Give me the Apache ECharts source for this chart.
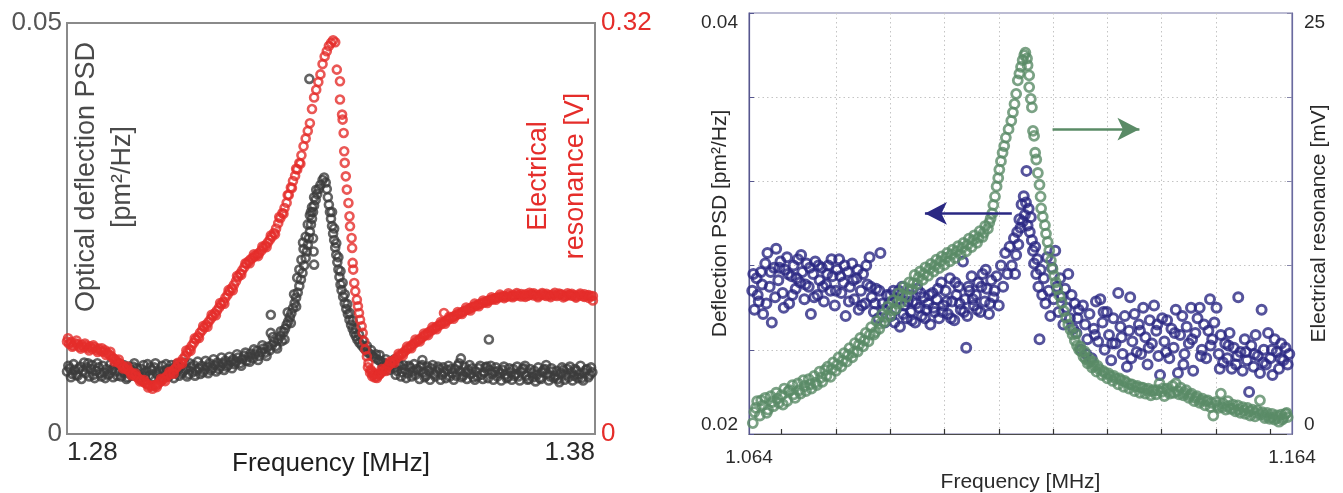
<!DOCTYPE html>
<html>
<head>
<meta charset="utf-8">
<script src="https://cdn.jsdelivr.net/npm/echarts@6/dist/echarts.min.js"></script>
<style>
html,body{margin:0;padding:0;background:#fff;}
#chart{width:1343px;height:493px;}
</style>
</head>
<body>
<div id="chart"></div>
<script>
// ---------- tick labels ----------
const leftXTicks = [1.28, 1.38];
const leftYTicks = [0, 0.05];
const leftY2Ticks = [0, 0.32];
const rightXTicks = [1.064, 1.164];
const rightXGrid = [1.07, 1.08, 1.09, 1.10, 1.11, 1.12, 1.13, 1.14, 1.15, 1.16];
const rightYTicks = [0.02, 0.04];
const rightYGridStep = 0.004;
const rightY2Ticks = [0, 25];
const rightY2GridStep = 5;

// ---------- left panel: optical deflection PSD [pm^2/Hz] vs frequency [MHz] ----------
const leftOpticalPSD = [
[1.2800,.0076],[1.2805,.0080],[1.2810,.0073],[1.2815,.0078],[1.2820,.0071],[1.2825,.0082],[1.2830,.0077],[1.2835,.0074],
[1.2840,.0086],[1.2845,.0079],[1.2850,.0072],[1.2855,.0077],[1.2860,.0081],[1.2865,.0070],[1.2870,.0075],[1.2875,.0079],
[1.2880,.0073],[1.2885,.0078],[1.2890,.0083],[1.2895,.0071],[1.2900,.0076],[1.2905,.0080],[1.2910,.0074],[1.2915,.0069],
[1.2920,.0078],[1.2925,.0082],[1.2930,.0075],[1.2935,.0072],[1.2940,.0079],[1.2945,.0084],[1.2950,.0076],[1.2955,.0071],
[1.2960,.0078],[1.2965,.0081],[1.2970,.0074],[1.2975,.0077],[1.2980,.0083],[1.2985,.0072],[1.2990,.0079],[1.2995,.0075],
[1.3000,.0080],[1.3005,.0074],[1.3010,.0078],[1.3015,.0082],[1.3020,.0076],[1.3025,.0079],[1.3030,.0073],[1.3035,.0081],
[1.3040,.0084],[1.3045,.0077],[1.3050,.0080],[1.3055,.0083],[1.3060,.0078],[1.3065,.0082],[1.3070,.0086],[1.3075,.0080],
[1.3080,.0084],[1.3085,.0087],[1.3090,.0082],[1.3095,.0086],[1.3100,.0089],[1.3105,.0084],[1.3110,.0088],[1.3115,.0091],
[1.28025,.0083],[1.28075,.0069],[1.28125,.0085],[1.28175,.0072],[1.28225,.0079],[1.28275,.0067],[1.28325,.0087],[1.28375,.0081],
[1.28425,.0070],[1.28475,.0084],[1.28525,.0068],[1.28575,.0086],[1.28625,.0074],[1.28675,.0083],[1.28725,.0068],[1.28775,.0072],
[1.28825,.0085],[1.28875,.0069],[1.28925,.0076],[1.28975,.0086],[1.29025,.0070],[1.29075,.0084],[1.29125,.0067],[1.29175,.0082],
[1.29225,.0071],[1.29275,.0086],[1.29325,.0080],[1.29375,.0068],[1.29425,.0073],[1.29475,.0070],[1.29525,.0085],[1.29575,.0081],
[1.29625,.0069],[1.29675,.0086],[1.29725,.0071],[1.29775,.0068],[1.29825,.0076],[1.29875,.0085],[1.29925,.0070],[1.29975,.0084],
[1.30025,.0068],[1.30075,.0085],[1.30125,.0071],[1.30175,.0074],[1.30225,.0087],[1.30275,.0070],[1.30325,.0086],[1.30375,.0075],
[1.30425,.0071],[1.30475,.0088],[1.30525,.0073],[1.30575,.0075],[1.30625,.0089],[1.30675,.0074],[1.30725,.0078],[1.30775,.0091],
[1.30825,.0076],[1.30875,.0079],[1.30925,.0093],[1.30975,.0078],[1.31025,.0082],[1.31075,.0094],[1.31125,.0080],[1.31175,.0085],
[1.3120,.0088],[1.3124,.0093],[1.3128,.0086],[1.3132,.0091],[1.3136,.0095],[1.3140,.0089],[1.3144,.0094],[1.3148,.0098],
[1.3152,.0092],[1.3156,.0097],[1.3160,.0101],[1.3164,.0095],[1.3168,.0100],[1.3172,.0104],[1.3176,.0099],[1.3180,.0106],
[1.3184,.0102],[1.3186,.0123],[1.3186,.0145],[1.3188,.0108],[1.3192,.0112],[1.3196,.0107],[1.3200,.0115],[1.3204,.0119],
[1.3207,.0113],[1.3210,.0124],[1.3213,.0128],[1.3216,.0133],[1.3219,.0137],[1.3222,.0142],[1.3225,.0147],[1.3228,.0153],
[1.3231,.0159],[1.3234,.0166],[1.3237,.0172],[1.3240,.0180],[1.3243,.0188],[1.3246,.0196],[1.3249,.0205],[1.3252,.0214],
[1.3254,.0222],[1.3256,.0230],[1.3258,.0238],[1.3259,.0432],[1.3260,.0246],[1.3262,.0255],[1.3264,.0262],[1.3266,.0270],
[1.3268,.0278],[1.3271,.0285],[1.3274,.0292],[1.3277,.0298],[1.3280,.0303],[1.3284,.0309],[1.3287,.0312],
[1.3122,.0097],[1.3130,.0083],[1.3138,.0099],[1.3146,.0088],[1.3154,.0103],[1.3162,.0090],[1.3170,.0108],[1.3178,.0095],
[1.3190,.0118],[1.3198,.0104],[1.3205,.0125],[1.3212,.0115],[1.3218,.0148],[1.3224,.0135],[1.3230,.0170],[1.3234,.0155],
[1.3236,.0190],[1.3240,.0200],[1.3244,.0212],[1.3248,.0225],[1.3252,.0240],[1.3256,.0255],[1.3260,.0266],[1.3264,.0276],
[1.3268,.0288],[1.3272,.0297],[1.3266,.0238],[1.3267,.0222],[1.3268,.0206],[1.3247,.0233],[1.3262,.0270],
[1.3290,.0306],[1.3292,.0298],[1.3294,.0288],[1.3296,.0279],[1.3298,.0270],[1.3300,.0262],[1.3302,.0253],[1.3304,.0244],
[1.3306,.0236],[1.3308,.0227],[1.3310,.0218],[1.3312,.0209],[1.3314,.0200],[1.3316,.0191],[1.3318,.0182],[1.3320,.0175],
[1.3323,.0167],[1.3326,.0159],[1.3329,.0152],[1.3332,.0146],[1.3335,.0139],[1.3338,.0133],[1.3341,.0128],[1.3344,.0123],
[1.3347,.0119],[1.3350,.0115],[1.3354,.0111],[1.3358,.0108],[1.3362,.0105],[1.3366,.0102],[1.3370,.0099],[1.3375,.0097],
[1.3380,.0094],[1.3385,.0092],[1.3390,.0090],[1.3395,.0088],[1.3400,.0087],[1.3405,.0085],[1.3410,.0083],[1.3415,.0082],
[1.3302,.0270],[1.3306,.0250],[1.3310,.0232],[1.3314,.0215],[1.3318,.0198],[1.3322,.0184],[1.3326,.0170],[1.3331,.0158],
[1.3336,.0147],[1.3341,.0138],[1.3347,.0128],[1.3353,.0121],[1.3360,.0114],[1.3368,.0107],[1.3376,.0102],[1.3385,.0097],
[1.3392,.0096],[1.3398,.0082],[1.3404,.0091],[1.3410,.0078],[1.3416,.0088],[1.3420,.0091],
[1.3420,.0080],[1.3425,.0077],[1.3430,.0083],[1.3435,.0075],[1.3440,.0079],[1.3445,.0074],[1.3450,.0081],[1.3455,.0076],
[1.3460,.0072],[1.3465,.0078],[1.3470,.0082],[1.3473,.0090],[1.3475,.0075],[1.3480,.0071],[1.3485,.0077],[1.3490,.0080],
[1.3495,.0073],[1.3500,.0076],[1.3505,.0079],[1.3510,.0072],[1.3515,.0075],[1.3520,.0078],[1.3525,.0070],[1.3530,.0074],
[1.3535,.0079],[1.3540,.0083],[1.3546,.0092],[1.3545,.0076],[1.3550,.0071],[1.3555,.0075],[1.3560,.0078],[1.3565,.0073],
[1.3570,.0069],[1.3575,.0076],[1.3580,.0080],[1.3585,.0072],[1.3590,.0075],[1.3595,.0082],[1.3599,.0115],[1.3600,.0078],
[1.3605,.0073],[1.3610,.0076],[1.3615,.0070],[1.3620,.0074],[1.3625,.0078],[1.3630,.0072],[1.3635,.0069],[1.3640,.0075],
[1.3645,.0079],[1.3650,.0073],[1.3655,.0070],[1.3660,.0076],[1.3665,.0080],[1.3670,.0071],[1.3675,.0067],[1.3680,.0074],
[1.3685,.0077],[1.3690,.0072],[1.3695,.0068],[1.3700,.0075],[1.3705,.0079],[1.3710,.0073],[1.3715,.0070],[1.3720,.0076],
[1.3725,.0071],[1.3730,.0067],[1.3735,.0074],[1.3740,.0078],[1.3745,.0072],[1.3750,.0069],[1.3755,.0075],[1.3760,.0071],
[1.3765,.0077],[1.3770,.0073],[1.3775,.0068],[1.3780,.0074],[1.3785,.0079],[1.3790,.0072],[1.3795,.0075],
[1.34225,.0072],[1.34275,.0086],[1.34325,.0070],[1.34375,.0084],[1.34425,.0068],[1.34475,.0083],[1.34525,.0070],[1.34575,.0085],
[1.34625,.0079],[1.34675,.0067],[1.34725,.0084],[1.34775,.0069],[1.34825,.0082],[1.34875,.0066],[1.34925,.0084],[1.34975,.0070],
[1.35025,.0082],[1.35075,.0066],[1.35125,.0081],[1.35175,.0068],[1.35225,.0083],[1.35275,.0079],[1.35325,.0066],[1.35375,.0071],
[1.35425,.0086],[1.35475,.0069],[1.35525,.0082],[1.35575,.0067],[1.35625,.0084],[1.35675,.0080],[1.35725,.0066],[1.35775,.0070],
[1.35825,.0083],[1.35875,.0067],[1.35925,.0081],[1.35975,.0068],[1.36025,.0083],[1.36075,.0066],[1.36125,.0081],[1.36175,.0077],
[1.36225,.0065],[1.36275,.0082],[1.36325,.0068],[1.36375,.0080],[1.36425,.0066],[1.36475,.0071],[1.36525,.0082],[1.36575,.0065],
[1.36625,.0079],[1.36675,.0083],[1.36725,.0066],[1.36775,.0079],[1.36825,.0069],[1.36875,.0064],[1.36925,.0081],[1.36975,.0067],
[1.37025,.0078],[1.37075,.0084],[1.37125,.0065],[1.37175,.0080],[1.37225,.0068],[1.37275,.0077],[1.37325,.0063],[1.37375,.0081],
[1.37425,.0066],[1.37475,.0079],[1.37525,.0082],[1.37575,.0065],[1.37625,.0079],[1.37675,.0068],[1.37725,.0083],[1.37775,.0065],
[1.37825,.0078],[1.37875,.0069],[1.37925,.0081]
];

// ---------- left panel: electrical resonance [V] vs frequency [MHz] ----------
const leftElectrical = [
[1.2800,.0720],[1.2804,.0702],[1.2808,.0715],[1.2812,.0690],[1.2816,.0706],[1.2820,.0698],[1.2824,.0680],[1.2828,.0694],
[1.2832,.0676],[1.2836,.0688],[1.2840,.0670],[1.2844,.0682],[1.2848,.0664],[1.2852,.0675],[1.2856,.0655],[1.2860,.0666],
[1.2864,.0648],[1.2868,.0640],[1.2872,.0652],[1.2876,.0632],[1.2880,.0618],[1.2884,.0605],[1.2888,.0590],[1.2892,.0578],
[1.2896,.0560],[1.2900,.0548],[1.2904,.0535],[1.2908,.0520],[1.2912,.0508],[1.2916,.0496],[1.2920,.0482],[1.2924,.0470],
[1.2928,.0458],[1.2932,.0446],[1.2936,.0432],[1.2940,.0420],[1.2944,.0408],[1.2948,.0398],[1.2952,.0388],[1.2956,.0378],
[1.2960,.0372],[1.2964,.0380],[1.2968,.0376],[1.2972,.0390],[1.2976,.0405],[1.2980,.0418],[1.2984,.0430],[1.2988,.0445],
[1.2992,.0460],[1.2996,.0472],[1.3000,.0488],[1.3004,.0505],[1.3008,.0522],[1.3012,.0540],[1.3016,.0560],[1.3020,.0585],
[1.3024,.0608],[1.3028,.0635],[1.3032,.0660],[1.3036,.0686],[1.3040,.0710],[1.3044,.0735],[1.3048,.0760],[1.3052,.0788],
[1.3056,.0808],[1.3060,.0830],[1.3064,.0852],[1.3068,.0872],[1.3072,.0895],[1.3076,.0916],[1.3080,.0940],[1.3084,.0962],
[1.3088,.0985],[1.3092,.1008],[1.3096,.1030],[1.3100,.1060],[1.3104,.1085],[1.3108,.1110],[1.3112,.1135],[1.3116,.1160],
[1.3120,.1190],[1.3124,.1222],[1.3128,.1250],[1.3132,.1275],[1.3136,.1300],[1.3140,.1325],[1.3144,.1345],[1.3148,.1360],
[1.3152,.1372],[1.3156,.1385],[1.3160,.1398],[1.3164,.1410],[1.3168,.1428],[1.3172,.1450],[1.3176,.1470],[1.3180,.1490],
[1.3184,.1512],[1.3188,.1535],[1.3192,.1565],[1.3196,.1600],[1.3200,.1640],[1.3204,.1680],[1.3208,.1720],[1.3212,.1760],
[1.3216,.1800],[1.3220,.1860],[1.3224,.1920],[1.3228,.1970],[1.3232,.2010],[1.3236,.2060],[1.3240,.2110],[1.3244,.2170],
[1.3248,.2240],[1.3252,.2300],[1.3256,.2360],[1.3260,.2420],[1.3264,.2530],[1.3268,.2620],[1.3272,.2680],[1.3276,.2740],
[1.3280,.2800],[1.3284,.2880],[1.3288,.2940],[1.3292,.2980],[1.3296,.3020],[1.3300,.3045],[1.3304,.3065],[1.3308,.3050],
[1.2802,.0745],[1.2810,.0680],[1.2818,.0728],[1.2826,.0665],[1.2834,.0705],[1.2842,.0650],[1.2850,.0690],[1.2858,.0638],
[1.2866,.0668],[1.2874,.0615],[1.2882,.0640],[1.2890,.0565],[1.2898,.0580],[1.2906,.0510],[1.2914,.0525],[1.2922,.0458],
[1.2930,.0470],[1.2938,.0410],[1.2946,.0420],[1.2954,.0362],[1.2962,.0352],[1.2970,.0365],[1.2978,.0430],[1.2986,.0412],
[1.2994,.0485],[1.3002,.0470],[1.3010,.0555],[1.3018,.0548],[1.3026,.0650],[1.3034,.0648],[1.3042,.0745],[1.3050,.0748],
[1.3058,.0840],[1.3066,.0835],[1.3074,.0928],[1.3082,.0925],[1.3090,.1020],[1.3098,.1015],[1.3106,.1120],[1.3114,.1120],
[1.3122,.1230],[1.3130,.1240],[1.3138,.1330],[1.3146,.1330],[1.3154,.1400],[1.3162,.1385],[1.3170,.1460],[1.3178,.1455],
[1.3186,.1545],[1.3194,.1555],[1.3202,.1690],[1.3210,.1715],[1.3218,.1860],[1.3226,.1915],[1.3234,.2065],[1.3242,.2105],
[1.3311,.2837],[1.3317,.2746],[1.3317,.2604],[1.3321,.2487],[1.3322,.2448],[1.3324,.2344],[1.3325,.2201],[1.3326,.2111],
[1.3328,.2006],[1.3330,.1903],[1.3333,.1799],[1.3335,.1695],[1.3336,.1617],[1.3339,.1526],[1.3340,.1449],[1.3341,.1332],
[1.3342,.1280],[1.3344,.1176],[1.3346,.1111],[1.3349,.1046],[1.3351,.0994],[1.3353,.0942],[1.3355,.0890],[1.3358,.0838],
[1.3360,.0787],[1.3363,.0721],[1.3365,.0657],[1.3368,.0604],[1.3371,.0553],[1.3375,.0501],[1.3380,.0462],[1.3387,.0436],
[1.3370,.0520],[1.3374,.0478],[1.3378,.0450],[1.3383,.0440],[1.3388,.0452],[1.3392,.0465],[1.3383,.0470],[1.3378,.0485],
[1.3392,.0468],[1.3396,.0482],[1.3400,.0495],[1.3404,.0510],[1.3408,.0528],[1.3412,.0545],[1.3416,.0562],[1.3420,.0575],
[1.3424,.0590],[1.3428,.0605],[1.3432,.0618],[1.3436,.0630],[1.3440,.0645],[1.3444,.0660],[1.3448,.0672],[1.3452,.0688],
[1.3456,.0700],[1.3460,.0712],[1.3464,.0726],[1.3468,.0738],[1.3472,.0750],[1.3476,.0763],[1.3480,.0775],[1.3484,.0790],
[1.3488,.0800],[1.3492,.0812],[1.3496,.0822],[1.3500,.0835],[1.3504,.0845],[1.3508,.0855],[1.3512,.0866],[1.3514,.0942],
[1.3516,.0876],[1.3520,.0886],[1.3524,.0895],[1.3528,.0905],[1.3532,.0914],[1.3536,.0922],[1.3540,.0932],[1.3544,.0940],
[1.3548,.0948],[1.3552,.0957],[1.3556,.0965],[1.3560,.0972],[1.3564,.0980],[1.3568,.0988],[1.3572,.0995],[1.3576,.1002],
[1.3580,.1010],[1.3584,.1016],[1.3588,.1022],[1.3592,.1030],[1.3596,.1036],[1.3600,.1042],[1.3604,.1048],[1.3608,.1052],
[1.3612,.1058],[1.3616,.1062],[1.3620,.1066],[1.3624,.1070],[1.3628,.1075],[1.3632,.1068],[1.3636,.1078],[1.3640,.1072],
[1.3644,.1082],[1.3648,.1075],[1.3652,.1085],[1.3656,.1078],[1.3660,.1070],[1.3664,.1080],[1.3668,.1088],[1.3672,.1076],
[1.3676,.1082],[1.3680,.1090],[1.3684,.1078],[1.3688,.1084],[1.3692,.1075],[1.3696,.1082],[1.3700,.1088],[1.3704,.1080],
[1.3708,.1074],[1.3712,.1082],[1.3716,.1078],[1.3720,.1086],[1.3724,.1080],[1.3728,.1074],[1.3732,.1082],[1.3736,.1088],
[1.3740,.1078],[1.3744,.1072],[1.3748,.1080],[1.3752,.1085],[1.3756,.1076],[1.3760,.1082],[1.3764,.1070],[1.3768,.1078],
[1.3772,.1084],[1.3776,.1075],[1.3780,.1068],[1.3784,.1078],[1.3788,.1082],[1.3792,.1072],[1.3796,.1040],
[1.3396,.0505],[1.3404,.0490],[1.3412,.0565],[1.3420,.0555],[1.3428,.0625],[1.3436,.0612],[1.3444,.0680],[1.3452,.0668],
[1.3460,.0735],[1.3468,.0720],[1.3476,.0782],[1.3484,.0770],[1.3492,.0832],[1.3500,.0815],[1.3508,.0872],[1.3516,.0858],
[1.3524,.0912],[1.3532,.0898],[1.3540,.0950],[1.3548,.0935],[1.3556,.0985],[1.3564,.0962],[1.3572,.1015],[1.3580,.0995],
[1.3588,.1040],[1.3596,.1020],[1.3604,.1065],[1.3612,.1045],[1.3620,.1085],[1.3628,.1058],[1.3636,.1095],[1.3644,.1065],
[1.3652,.1098],[1.3660,.1090],[1.3668,.1068],[1.3676,.1100],[1.3684,.1095],[1.3692,.1065],[1.3700,.1098],[1.3708,.1092],
[1.3716,.1066],[1.3724,.1100],[1.3732,.1094],[1.3740,.1064],[1.3748,.1096],[1.3756,.1092],[1.3764,.1062],[1.3772,.1094],
[1.3780,.1088],[1.3788,.1060],[1.3796,.1075]
];

// ---------- right panel: deflection PSD [pm^2/Hz] vs frequency [MHz] ----------
const rightDeflectionPSD = [
[1.0646,.0268],[1.0650,.0259],[1.0654,.0274],[1.0658,.0263],[1.0662,.0277],[1.0666,.0257],[1.0670,.0281],[1.0674,.0286],
[1.0678,.0270],[1.0682,.0253],[1.0686,.0279],[1.0690,.0288],[1.0694,.0273],[1.0698,.0282],[1.0702,.0267],[1.0706,.0278],
[1.0710,.0284],[1.0714,.0262],[1.0718,.0275],[1.0722,.0280],[1.0726,.0269],[1.0730,.0283],[1.0734,.0272],[1.0738,.0277],
[1.0742,.0264],[1.0746,.0281],[1.0750,.0270],[1.0754,.0257],[1.0758,.0276],[1.0762,.0282],[1.0766,.0266],[1.0770,.0273],
[1.0774,.0279],[1.0778,.0263],[1.0782,.0271],[1.0786,.0280],[1.0790,.0268],[1.0794,.0275],[1.0798,.0261],[1.0802,.0278],
[1.0806,.0283],[1.0810,.0267],[1.0814,.0272],[1.0818,.0256],[1.0822,.0277],[1.0826,.0270],[1.0830,.0281],[1.0834,.0264],
[1.0838,.0274],[1.0842,.0259],[1.0846,.0268],[1.0850,.0276],[1.0854,.0262],[1.0858,.0271],[1.0862,.0284],[1.0866,.0265],
[1.0870,.0258],[1.0874,.0269],[1.0878,.0255],[1.0882,.0286],[1.0886,.0262],[1.0890,.0253],[1.0894,.0266],
[1.0648,.0276],[1.0656,.0266],[1.0664,.0271],[1.0672,.0262],[1.0680,.0277],[1.0688,.0265],[1.0696,.0279],[1.0704,.0260],
[1.0712,.0276],[1.0720,.0266],[1.0728,.0274],[1.0736,.0285],[1.0744,.0271],[1.0752,.0279],[1.0760,.0265],[1.0768,.0280],
[1.0776,.0270],[1.0784,.0276],[1.0792,.0283],[1.0800,.0268],[1.0808,.0275],[1.0816,.0280],[1.0824,.0263],[1.0832,.0273],
[1.0840,.0278],[1.0848,.0261],[1.0856,.0280],[1.0864,.0270],[1.0872,.0262],[1.0880,.0268],[1.0888,.0259],
[1.0898,.0262],[1.0902,.0256],[1.0906,.0268],[1.0910,.0259],[1.0914,.0264],[1.0918,.0251],[1.0922,.0270],[1.0926,.0261],
[1.0930,.0255],[1.0934,.0266],[1.0938,.0258],[1.0942,.0263],[1.0946,.0253],[1.0950,.0269],[1.0954,.0260],[1.0958,.0256],
[1.0962,.0265],[1.0966,.0259],[1.0970,.0262],[1.0974,.0252],[1.0978,.0267],[1.0982,.0258],[1.0986,.0264],[1.0990,.0255],
[1.0994,.0272],[1.0998,.0261],[1.1002,.0268],[1.1006,.0257],[1.1010,.0274],[1.1014,.0263],[1.1018,.0254],[1.1022,.0266],
[1.1026,.0270],[1.1030,.0259],[1.1034,.0282],[1.1038,.0264],[1.1040,.0241],[1.1042,.0256],[1.1046,.0268],[1.1050,.0275],
[1.1054,.0261],[1.1058,.0266],[1.1062,.0272],[1.1066,.0258],[1.1070,.0276],[1.1074,.0263],[1.1078,.0269],[1.1082,.0257],
[1.1086,.0273],[1.1090,.0265],
[1.0900,.0266],[1.0908,.0253],[1.0916,.0268],[1.0924,.0257],[1.0932,.0263],[1.0940,.0254],[1.0948,.0262],[1.0956,.0267],
[1.0964,.0255],[1.0972,.0266],[1.0980,.0260],[1.0988,.0269],[1.0996,.0258],[1.1004,.0263],[1.1012,.0255],[1.1020,.0272],
[1.1028,.0262],[1.1036,.0258],[1.1044,.0270],[1.1052,.0264],[1.1060,.0259],[1.1068,.0270],[1.1076,.0278],[1.1084,.0262],
[1.1092,.0268],[1.1096,.0275],[1.1100,.0261],[1.1104,.0280],[1.1108,.0270],[1.1112,.0286],[1.1116,.0276],[1.1120,.0289],
[1.1124,.0280],[1.1128,.0293],[1.1130,.0276],[1.1132,.0285],[1.1134,.0296],[1.1136,.0290],[1.1138,.0302],[1.1140,.0298],
[1.1142,.0309],[1.1144,.0301],[1.1146,.0313],[1.1148,.0304],[1.1150,.0310],[1.1151,.0325],[1.1153,.0299],[1.1155,.0307],
[1.1157,.0296],[1.1159,.0303],[1.1161,.0292],[1.1163,.0287],[1.1165,.0281],[1.1167,.0289],[1.1169,.0276],[1.1171,.0283],
[1.1173,.0270],[1.1175,.0245],[1.1177,.0278],[1.1180,.0266],
[1.1183,.0274],[1.1186,.0262],[1.1189,.0284],[1.1192,.0268],[1.1195,.0256],[1.1198,.0279],[1.1201,.0264],[1.1204,.0287],
[1.1207,.0270],[1.1210,.0258],[1.1213,.0274],[1.1216,.0265],[1.1219,.0252],[1.1222,.0269],[1.1225,.0260],[1.1228,.0276],
[1.1231,.0255],[1.1234,.0266],[1.1237,.0250],[1.1240,.0262],
[1.1243,.0248],[1.1247,.0259],[1.1251,.0240],[1.1255,.0261],[1.1259,.0252],[1.1263,.0245],[1.1267,.0257],[1.1271,.0236],
[1.1275,.0250],[1.1279,.0263],[1.1283,.0244],[1.1287,.0264],[1.1291,.0253],[1.1295,.0240],[1.1299,.0258],[1.1303,.0247],
[1.1307,.0235],[1.1311,.0255],[1.1315,.0243],[1.1320,.0267],[1.1324,.0251],[1.1328,.0238],[1.1332,.0256],[1.1336,.0232],
[1.1340,.0249],[1.1342,.0265],[1.1346,.0244],[1.1350,.0257],[1.1354,.0239],[1.1358,.0252],[1.1362,.0238],[1.1366,.0260],
[1.1370,.0246],[1.1374,.0233],[1.1378,.0254],[1.1382,.0243],[1.1386,.0261],[1.1390,.0249],[1.1394,.0237],[1.1397,.0228],
[1.1401,.0255],[1.1405,.0244],[1.1410,.0254],[1.1414,.0236],[1.1418,.0250],[1.1422,.0241],[1.1426,.0259],[1.1430,.0229],
[1.1434,.0247],[1.1438,.0256],[1.1442,.0238],[1.1446,.0251],[1.1450,.0243],[1.1454,.0260],[1.1458,.0230],[1.1462,.0248],
[1.1466,.0255],[1.1470,.0260],[1.1474,.0240],[1.1478,.0252],[1.1482,.0236],[1.1486,.0249],[1.1489,.0264],[1.1493,.0245],
[1.1497,.0253],[1.1501,.0260],[1.1505,.0238],[1.1509,.0247],[1.1513,.0234],[1.1517,.0243],[1.1521,.0236],[1.1525,.0248],
[1.1529,.0231],[1.1533,.0241],[1.1537,.0233],[1.1541,.0265],[1.1545,.0239],[1.1549,.0230],[1.1553,.0245],[1.1557,.0235],
[1.1561,.0220],[1.1565,.0242],[1.1569,.0232],[1.1573,.0247],[1.1577,.0237],[1.1581,.0229],[1.1584,.0259],[1.1588,.0240],
[1.1592,.0233],[1.1596,.0248],[1.1600,.0236],[1.1604,.0228],[1.1608,.0245],[1.1612,.0239],[1.1616,.0231],[1.1620,.0243],
[1.1624,.0235],[1.1628,.0241],[1.1632,.0233],[1.1635,.0238],
[1.1245,.0255],[1.1261,.0238],[1.1277,.0247],[1.1293,.0258],[1.1309,.0243],[1.1326,.0246],[1.1344,.0236],[1.1360,.0249],
[1.1376,.0241],[1.1392,.0252],[1.1408,.0239],[1.1424,.0248],[1.1440,.0233],[1.1456,.0245],[1.1472,.0237],[1.1490,.0242],
[1.1507,.0231],[1.1523,.0242],[1.1539,.0237],[1.1555,.0239],[1.1571,.0238],[1.1587,.0234],[1.1603,.0240],[1.1619,.0236]
];

// ---------- right panel: electrical resonance [mV] vs frequency [MHz] ----------
const rightElectrical = [
[1.0647,0.65],[1.0650,1.30],[1.0655,1.95],[1.0660,1.10],[1.0665,1.70],[1.0670,2.15],[1.0675,1.45],[1.0680,2.25],
[1.0685,1.65],[1.0690,2.45],[1.0695,1.85],[1.0700,2.30],[1.0705,2.70],[1.0710,1.95],[1.0715,2.60],[1.0720,2.90],
[1.0725,2.15],[1.0730,3.00],[1.0735,2.40],[1.0740,3.20],[1.0745,2.55],[1.0750,3.25],[1.0755,2.70],[1.0760,3.45],
[1.0765,2.90],[1.0770,3.70],[1.0775,3.10],[1.0780,3.80],[1.0785,4.00],[1.0790,3.40],[1.0795,4.25],[1.0800,3.75],
[1.0805,4.55],[1.0810,4.00],[1.0815,4.80],[1.0820,4.30],[1.0825,5.10],[1.0830,4.55],[1.0835,5.40],[1.0840,4.90],
[1.0845,5.70],[1.0850,5.20],[1.0855,6.00],[1.0860,5.50],[1.0865,6.35],[1.0870,5.90],[1.0875,6.70],[1.0880,6.25],
[1.0885,7.10],[1.0890,6.65],[1.0895,7.55],[1.0900,7.00],[1.0905,7.95],[1.0910,7.40],[1.0915,8.35],[1.0920,7.80],
[1.0925,8.75],[1.0930,8.15],[1.0935,9.00],[1.0940,8.60],[1.0945,9.45],[1.0950,8.90],[1.0955,9.65],[1.0960,9.15],
[1.0965,9.90],[1.0970,9.40],[1.0975,10.10],[1.0980,9.65],[1.0985,10.35],[1.0990,9.85],[1.0995,10.55],[1.1000,10.05],
[1.1005,10.75],[1.1010,10.25],[1.1015,10.95],[1.1020,10.45],[1.1025,11.15],[1.1030,10.65],[1.1035,11.35],[1.1040,10.85],
[1.1045,11.60],[1.1050,11.10],[1.1055,11.80],[1.1060,11.35],[1.1065,12.05],[1.1070,11.70],[1.1075,12.35],[1.1080,12.20],
[1.1085,12.80],[1.1088,13.10],
[1.06525,1.55],[1.06625,2.00],[1.06725,1.25],[1.06825,1.90],[1.06925,2.10],[1.07025,1.75],[1.07125,2.55],[1.07225,2.35],
[1.07325,2.60],[1.07425,2.85],[1.07525,2.95],[1.07625,3.05],[1.07725,3.35],[1.07825,3.45],[1.07925,3.85],[1.08025,4.10],
[1.08125,4.35],[1.08225,4.70],[1.08325,4.85],[1.08425,5.30],[1.08525,5.55],[1.08625,5.90],[1.08725,6.05],[1.08825,6.55],
[1.08925,6.95],[1.09025,7.35],[1.09125,7.75],[1.09225,8.20],[1.09325,8.60],[1.09425,8.95],[1.09525,9.30],[1.09625,9.50],
[1.09725,9.80],[1.09825,10.00],[1.09925,10.25],[1.10025,10.45],[1.10125,10.65],[1.10225,10.85],[1.10325,11.05],[1.10425,11.25],
[1.10525,11.50],[1.10625,11.65],[1.10725,11.95],[1.10825,12.55],
[1.1090,13.60],[1.1093,14.10],[1.1096,14.70],[1.1099,15.20],[1.1101,15.70],[1.1104,16.20],[1.1107,16.70],[1.1110,17.10],
[1.1113,17.60],[1.1118,18.10],[1.1123,18.60],[1.1126,19.10],[1.1129,19.60],[1.1132,20.20],[1.1135,21.00],[1.1138,21.40],
[1.1141,21.80],[1.1144,22.20],[1.1147,22.50],[1.1149,22.65],
[1.1152,22.30],[1.1153,21.90],[1.1156,21.30],[1.1156,20.60],[1.1159,19.90],[1.1161,19.40],[1.1163,18.00],[1.1165,17.70],
[1.1167,16.70],[1.1169,16.30],[1.1172,15.50],[1.1175,14.80],[1.1177,14.10],[1.1178,13.40],[1.1181,12.90],[1.1185,12.40],
[1.1187,11.90],[1.1190,11.40],[1.1193,10.90],[1.1196,10.30],[1.1199,9.80],[1.1202,9.40],[1.1205,9.00],[1.1208,8.60],
[1.1212,8.20],[1.1216,7.80],[1.1220,7.30],[1.1224,6.90],[1.1228,6.50],[1.1232,6.20],[1.1236,5.90],
[1.1240,5.55],[1.1244,5.25],[1.1248,5.00],[1.1252,4.90],[1.1256,4.60],[1.1260,4.45],[1.1264,4.20],[1.1268,4.30],
[1.1272,3.95],[1.1276,4.05],[1.1280,3.70],[1.1285,3.85],[1.1290,3.50],[1.1295,3.65],[1.1300,3.30],[1.1305,3.45],
[1.1310,3.15],[1.1315,3.30],[1.1320,2.95],[1.1325,3.20],[1.1330,2.80],[1.1335,3.05],[1.1340,2.70],[1.1345,2.95],
[1.1350,2.55],[1.1355,2.85],[1.1360,2.45],[1.1365,2.75],[1.1370,2.40],[1.1375,2.70],[1.1380,2.30],[1.1385,2.60],
[1.1390,2.35],[1.1396,3.00],[1.1400,2.50],[1.1405,2.25],[1.1410,2.70],[1.1415,2.40],[1.1420,2.85],[1.1426,3.00],
[1.1430,2.55],[1.1435,2.75],[1.1440,2.30],[1.1445,2.60],[1.1450,2.15],[1.1455,2.40],[1.1460,1.95],[1.1465,2.25],
[1.1470,1.85],[1.1475,2.10],[1.1480,1.70],[1.1485,2.00],[1.1490,1.60],[1.1495,1.10],[1.1500,1.90],[1.1505,1.55],
[1.1509,2.40],[1.1513,1.80],[1.1518,1.45],[1.1522,1.95],[1.1527,1.50],[1.1531,1.75],[1.1536,1.35],[1.1540,1.70],
[1.1545,1.25],[1.1549,1.60],[1.1554,1.20],[1.1558,1.55],[1.1563,1.10],[1.1567,1.45],[1.1572,1.05],[1.1576,1.40],
[1.1581,2.00],[1.1585,1.30],[1.1590,0.95],[1.1594,1.25],[1.1599,0.90],[1.1603,1.20],[1.1608,0.85],[1.1612,1.10],
[1.1616,0.73],[1.1620,1.15],[1.1624,0.95],[1.1628,1.20],[1.1632,1.00],
[1.1242,5.95],[1.1250,5.20],[1.1258,4.90],[1.1266,4.50],[1.1274,4.30],[1.1282,4.05],[1.1292,3.75],[1.1302,3.60],
[1.1312,3.45],[1.1322,3.30],[1.1332,3.15],[1.1342,2.95],[1.1352,2.80],[1.1362,2.75],[1.1372,2.60],[1.1382,2.55],
[1.1392,2.60],[1.1402,2.70],[1.1412,2.55],[1.1422,2.45],[1.1432,2.35],[1.1442,2.45],[1.1452,2.30],[1.1462,2.15],
[1.1472,2.00],[1.1482,1.95],[1.1492,1.85],[1.1502,1.70],[1.1512,1.60],[1.1522,1.65],[1.1532,1.50],[1.1542,1.45],
[1.1552,1.40],[1.1562,1.35],[1.1572,1.25],[1.1582,1.15],[1.1592,1.10],[1.1602,1.00],[1.1612,0.95],[1.1622,0.85],
[1.1630,1.25]
];

// ---------- annotation arrows (data units) ----------
const arrowToPSD = [[1.1124, 0.03048], [1.0964, 0.03048]];      // left axis
const arrowToElectrical = [[1.1199, 18.1], [1.1359, 18.1]];      // right axis

// ---------- styling ----------
const FONT = "'Liberation Sans', Arial, Helvetica, sans-serif";
const C_GRAY = '#3c3c3c', C_RED = '#e52d2a', C_NAVY = '#2a2883', C_GREEN = '#5a8b66';
const near = (a, b) => Math.abs(a - b) < 1e-9;

function ringSeries(name, data, color, xi, yi, size, width, extra) {
  return Object.assign({
    name, type: 'scatter', data, xAxisIndex: xi, yAxisIndex: yi,
    symbol: 'circle', symbolSize: size,
    itemStyle: { color: 'rgba(0,0,0,0)', borderColor: color, borderWidth: width },
    emphasis: { disabled: true }, animation: false
  }, extra || {});
}

const chart = echarts.init(document.getElementById('chart'), null, { renderer: 'canvas' });
chart.setOption({
  animation: false,
  backgroundColor: '#fff',
  textStyle: { fontFamily: FONT },
  grid: [
    { left: 67, right: 748, top: 23, bottom: 59, show: true, borderColor: '#8a8a8a', borderWidth: 2,
      containLabel: false, outerBoundsMode: 'none' },
    { left: 749, right: 51, top: 13, bottom: 59, show: true, borderColor: '#7b7ba8', borderWidth: 1.2,
      containLabel: false, outerBoundsMode: 'none' }
  ],
  xAxis: [
    {
      type: 'value', gridIndex: 0, min: leftXTicks[0], max: leftXTicks[1],
      interval: leftXTicks[1] - leftXTicks[0],
      axisLine: { show: false }, axisTick: { show: false }, splitLine: { show: false },
      axisLabel: { customValues: leftXTicks, fontSize: 26, color: '#2a2a2a', margin: 6,
        alignMinLabel: 'left', alignMaxLabel: 'right', formatter: v => v.toFixed(2), fontFamily: FONT },
      name: 'Frequency [MHz]', nameLocation: 'middle', nameGap: 17, nameMoveOverlap: false,
      nameTextStyle: { fontSize: 26, color: '#1e1e1e', fontFamily: FONT }
    },
    {
      type: 'value', gridIndex: 1, min: rightXTicks[0], max: rightXTicks[1],
      interval: rightXTicks[1] - rightXTicks[0],
      axisLine: { show: true, lineStyle: { color: '#4a4a4a', width: 1.2 } },
      axisTick: { show: true, inside: true, length: 5, customValues: rightXGrid, lineStyle: { color: '#333', width: 1.2 } },
      splitLine: { show: true, showMinLine: false, showMaxLine: false, lineStyle: { color: '#c4c4c4', type: [1.5, 3], width: 1 } },
      axisLabel: { customValues: rightXTicks, fontSize: 19, color: '#2a2a2a', margin: 14, formatter: v => v.toFixed(3), fontFamily: FONT },
      name: 'Frequency [MHz]', nameLocation: 'middle', nameGap: 38, nameMoveOverlap: false,
      nameTextStyle: { fontSize: 21, color: '#2a2a2a', fontFamily: FONT }
    }
  ],
  yAxis: [
    {
      type: 'value', gridIndex: 0, min: leftYTicks[0], max: leftYTicks[1], interval: leftYTicks[1] - leftYTicks[0],
      axisLine: { show: false }, axisTick: { show: false }, splitLine: { show: false },
      axisLabel: { fontSize: 26, color: '#555', margin: 5, fontFamily: FONT, formatter: v => near(v, 0) ? '0' : String(v) }
    },
    {
      type: 'value', gridIndex: 0, position: 'right', min: leftY2Ticks[0], max: leftY2Ticks[1], interval: leftY2Ticks[1] - leftY2Ticks[0],
      axisLine: { show: false }, axisTick: { show: false }, splitLine: { show: false },
      axisLabel: { fontSize: 26, color: C_RED, margin: 6, fontFamily: FONT, formatter: v => near(v, 0) ? '0' : String(v) }
    },
    {
      type: 'value', gridIndex: 1, min: rightYTicks[0], max: rightYTicks[1], interval: rightYGridStep,
      axisLine: { show: true, lineStyle: { color: '#56568f', width: 1.2 } },
      axisTick: { show: true, inside: true, length: 5, lineStyle: { color: '#56568f' } },
      splitLine: { show: true, showMinLine: false, showMaxLine: false, lineStyle: { color: '#c4c4c4', type: [1.5, 3], width: 1 } },
      axisLabel: { fontSize: 19, color: '#2a2a2a', margin: 11, fontFamily: FONT,
        verticalAlignMinLabel: 'bottom', verticalAlignMaxLabel: 'top',
        formatter: v => (near(v, rightYTicks[0]) || near(v, rightYTicks[1])) ? v.toFixed(2) : '' },
      name: 'Deflection PSD [pm²/Hz]', nameLocation: 'middle', nameRotate: 90, nameGap: 18, nameMoveOverlap: false,
      nameTextStyle: { fontSize: 21, color: '#2a2a2a', fontFamily: FONT }
    },
    {
      type: 'value', gridIndex: 1, position: 'right', min: rightY2Ticks[0], max: rightY2Ticks[1], interval: rightY2GridStep,
      axisLine: { show: true, lineStyle: { color: '#6a6aa0', width: 1.2 } },
      axisTick: { show: true, inside: true, length: 5, lineStyle: { color: '#8888aa' } },
      splitLine: { show: false },
      axisLabel: { fontSize: 19, color: '#2a2a2a', margin: 12, fontFamily: FONT,
        verticalAlignMinLabel: 'bottom', verticalAlignMaxLabel: 'top',
        formatter: v => (near(v, rightY2Ticks[0]) || near(v, rightY2Ticks[1])) ? String(v) : '' },
      name: 'Electrical resonance [mV]', nameLocation: 'middle', nameRotate: 90, nameGap: 17, nameMoveOverlap: false,
      nameTextStyle: { fontSize: 21, color: '#2a2a2a', fontFamily: FONT }
    }
  ],
  graphic: [
    { type: 'text', x: 105, y: 177, rotation: Math.PI / 2, silent: true,
      style: { text: 'Optical deflection PSD\n[pm²/Hz]', fontSize: 27, fontFamily: FONT, fill: '#4a4a4a',
        align: 'center', verticalAlign: 'middle', lineHeight: 36 } },
    { type: 'text', x: 557, y: 176, rotation: Math.PI / 2, silent: true,
      style: { text: 'Electrical\nresonance [V]', fontSize: 27, fontFamily: FONT, fill: C_RED,
        align: 'center', verticalAlign: 'middle', lineHeight: 37 } }
  ],
  series: [
    ringSeries('Optical deflection PSD', leftOpticalPSD, C_GRAY, 0, 0, 8, 2.6),
    ringSeries('Electrical resonance', leftElectrical, C_RED, 0, 1, 8, 2.6),
    ringSeries('Deflection PSD', rightDeflectionPSD, C_NAVY, 1, 2, 9, 3, {
      markLine: {
        silent: true, symbol: ['none', 'arrow'], symbolSize: [17, 22], animation: false,
        label: { show: false }, lineStyle: { color: C_NAVY, width: 2.5, type: 'solid' },
        data: [[{ coord: arrowToPSD[0] }, { coord: arrowToPSD[1] }]]
      }
    }),
    ringSeries('Electrical resonance (mV)', rightElectrical, C_GREEN, 1, 3, 9, 2.8, {
      markLine: {
        silent: true, symbol: ['none', 'arrow'], symbolSize: [17, 22], animation: false,
        label: { show: false }, lineStyle: { color: C_GREEN, width: 2.5, type: 'solid' },
        data: [[{ coord: arrowToElectrical[0] }, { coord: arrowToElectrical[1] }]]
      }
    })
  ]
});
</script>
</body>
</html>
